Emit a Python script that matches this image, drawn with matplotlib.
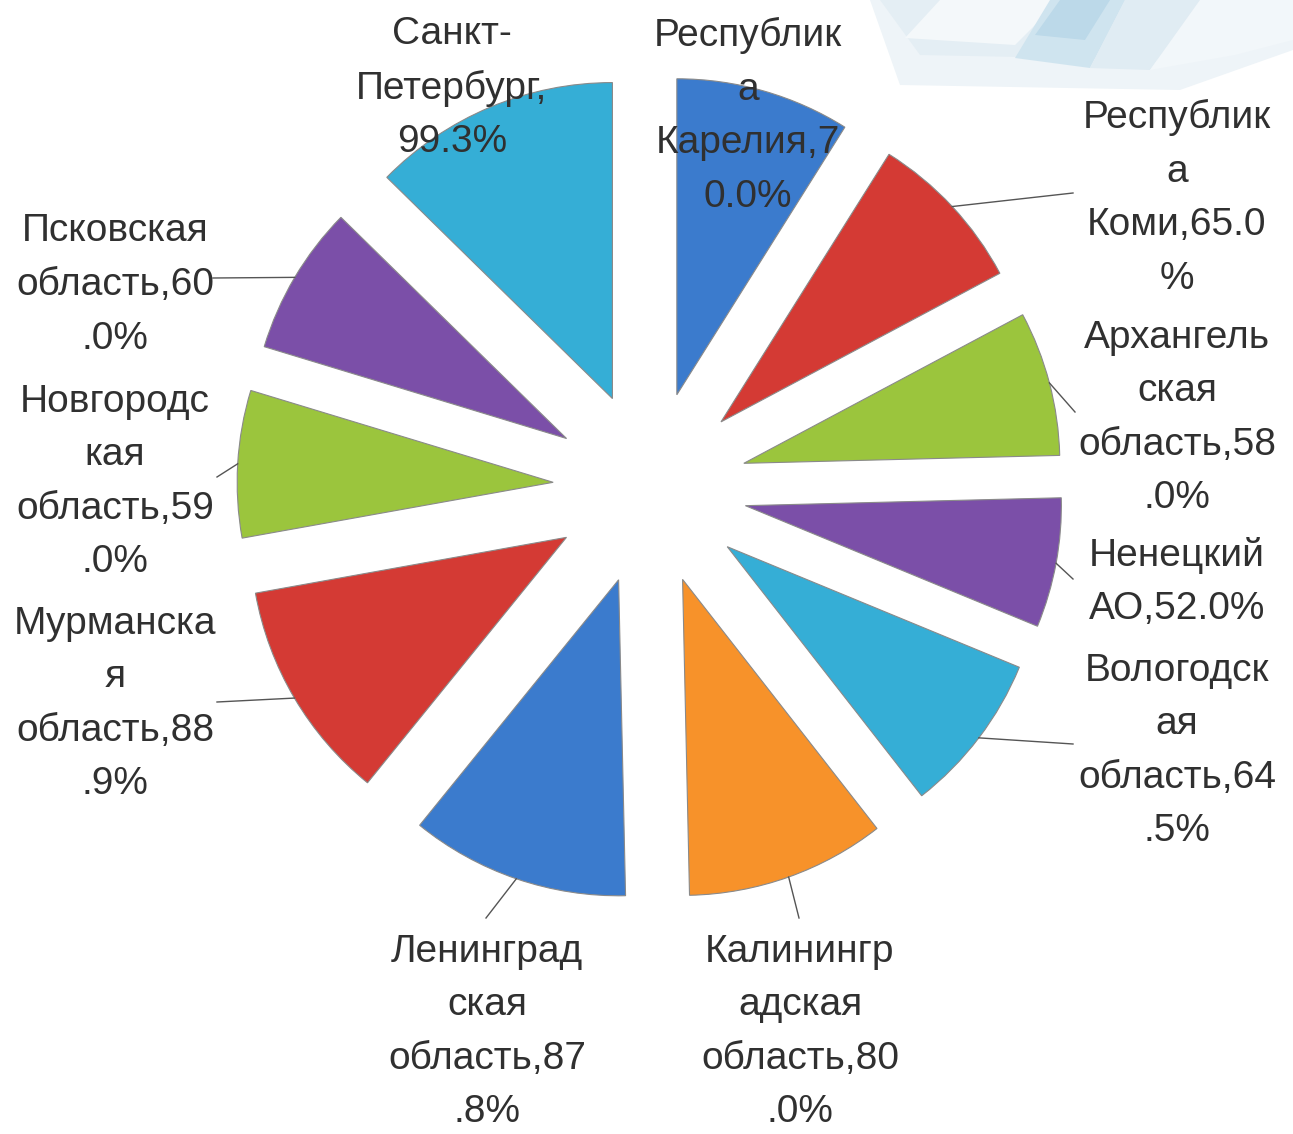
import numpy as np
import matplotlib
matplotlib.use("Agg")
import matplotlib.pyplot as plt

# ---------------- data ----------------
regions = ["Республика Карелия", "Республика Коми", "Архангельская область",
           "Ненецкий АО", "Вологодская область", "Калининградская область",
           "Ленинградская область", "Мурманская область", "Новгородская область",
           "Псковская область", "Санкт-Петербург"]
values = [70.0, 65.0, 58.0, 52.0, 64.5, 80.0, 87.8, 88.9, 59.0, 60.0, 99.3]
label_texts = ["Республик\nа\nКарелия,7\n0.0%",
               "Республик\nа\nКоми,65.0\n%",
               "Архангель\nская\nобласть,58\n.0%",
               "Ненецкий\nАО,52.0%",
               "Вологодск\nая\nобласть,64\n.5%",
               "Калинингр\nадская\nобласть,80\n.0%",
               "Ленинград\nская\nобласть,87\n.8%",
               "Мурманска\nя\nобласть,88\n.9%",
               "Новгородс\nкая\nобласть,59\n.0%",
               "Псковская\nобласть,60\n.0%",
               "Санкт-\nПетербург,\n99.3%"]
colors = ["#3b7bcd", "#d43a34", "#9bc53d", "#7b4fa8", "#35aed6", "#f7922a",
          "#3b7bcd", "#d43a34", "#9bc53d", "#7b4fa8", "#35aed6"]

# ---------------- layout (pixel space, y measured from top) ----------------
W, H = 1293, 1134
label_pos = [(748, 116), (1177, 198), (1177, 418), (1177, 582), (1177, 751),
             (800, 1032), (487, 1032), (115, 704), (115, 482), (115, 285),
             (452, 88)]
leader_end = [None, (1073, 193), (1075, 412), (1073, 579), (1073, 744),
              (799, 918), (486, 918), (217, 702), (217, 477), (213, 278), None]

plt.rcParams["font.family"] = ["Liberation Sans", "DejaVu Sans"]

fig = plt.figure(figsize=(W / 100, H / 100), dpi=100)
ax = fig.add_axes([0, 0, 1, 1])


def py(y):
    return H - y


# soft slide decoration at top right
deco = [
    ([(870, 0), (1293, 0), (1293, 50), (1180, 90), (900, 85)], "#eef4f8", 1.0),
    ([(880, 0), (1293, 0), (1293, 30), (1170, 60), (920, 55)], "#e4eef4", 1.0),
    ([(940, 0), (1060, 0), (1015, 45), (905, 38)], "#f4f8fa", 1.0),
    ([(1050, 0), (1125, 0), (1090, 68), (1015, 58)], "#cfe4ef", 1.0),
    ([(1060, 0), (1110, 0), (1085, 40), (1035, 35)], "#bcd9e9", 1.0),
    ([(1125, 0), (1200, 0), (1150, 70), (1090, 68)], "#e0ecf3", 1.0),
    ([(1200, 0), (1293, 0), (1293, 40), (1235, 55), (1150, 70)], "#f2f7fa", 1.0),
]
for pts, c, a in deco:
    xs = [p[0] for p in pts]
    ys = [py(p[1]) for p in pts]
    ax.fill(xs, ys, color=c, alpha=a, zorder=0, lw=0)

cx, cy = 650, py(488)
R = 316
expl = 97

wedges, _ = ax.pie(values, colors=colors, startangle=90, counterclock=False,
                   radius=R, center=(cx, cy), explode=[expl] * len(values),
                   wedgeprops=dict(edgecolor="#8a8a8a", linewidth=0.8))
for w in wedges:
    w.set_zorder(2)

# leader lines from arc midpoint to label
for w, end in zip(wedges, leader_end):
    if end is None:
        continue
    th = np.deg2rad((w.theta1 + w.theta2) / 2)
    x0 = w.center[0] + R * np.cos(th)
    y0 = w.center[1] + R * np.sin(th)
    ax.plot([x0, end[0]], [y0, py(end[1])], color="#555555", lw=1.0, zorder=3)

for txt, (lx, ly) in zip(label_texts, label_pos):
    ax.text(lx, py(ly), txt, ha="center", va="center", multialignment="center",
            fontsize=28, color="#303030", linespacing=1.63, zorder=4)

ax.set_xlim(0, W)
ax.set_ylim(0, H)
ax.set_aspect("equal")
ax.axis("off")

fig.savefig("out.png", dpi=100, facecolor="white")
